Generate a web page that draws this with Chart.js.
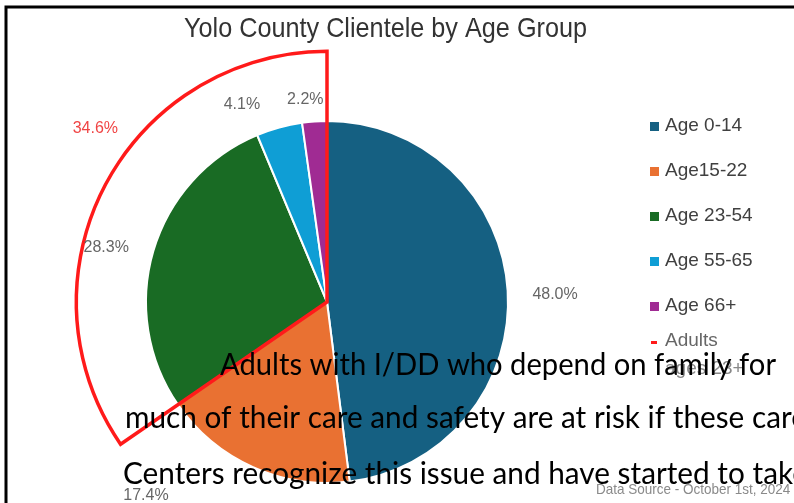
<!DOCTYPE html>
<html>
<head>
<meta charset="utf-8">
<script src="https://cdn.jsdelivr.net/npm/chart.js@4.4.1/dist/chart.umd.min.js"></script>
<style>
  html, body { margin: 0; padding: 0; background: #fff; }
  #wrap { position: relative; width: 794px; height: 503px; }
</style>
</head>
<body>
<div id="wrap"><canvas id="chart" width="794" height="503"></canvas></div>
<script>
var ageGroups = ["Age 0-14", "Age15-22", "Age 23-54", "Age 55-65", "Age 66+"];
var clientShare = [48.0, 17.4, 28.3, 4.1, 2.2];
var sliceColors = ["#156082", "#E97132", "#196B24", "#0F9ED5", "#A02B93"];
var adultGroups = [2, 3, 4]; // slices that make up the "adults" wedge
var adultsLegend = ["Adults", "ages 23+"];
var chartTitle = "Yolo County Clientele by Age Group";
var sourceNote = "Data Source - October 1st, 2024";
var slideLines = [
  "Adults with I/DD who depend on family for",
  "much of their care and safety are at risk if these care",
  "Centers recognize this issue and have started to take"
];

// where each percent label sits, relative to the pie centre, in radius units
var labelSpots = [[1.26, -0.04], [-1.0, 1.07], [-1.22, -0.30], [-0.47, -1.09], [-0.12, -1.12]];

function adultsShare() {
  var total = 0;
  adultGroups.forEach(function (i) { total += clientShare[i]; });
  return Math.round(total * 10) / 10;
}

// draws text squeezed/stretched horizontally by factor k
function squeezeText(ctx, text, x, y, k) {
  ctx.save();
  ctx.translate(x, y);
  ctx.scale(k, 1);
  ctx.fillText(text, 0, 0);
  ctx.restore();
}

var slidePlugin = {
  id: "slide",
  beforeDraw: function (chart) {
    var ctx = chart.ctx;
    ctx.save();
    ctx.fillStyle = "#fff";
    ctx.fillRect(0, 0, chart.width, chart.height);
    // frame of the pasted chart
    ctx.strokeStyle = "#000";
    ctx.lineWidth = 3;
    ctx.beginPath();
    ctx.moveTo(6, chart.height);
    ctx.lineTo(6, 7);
    ctx.lineTo(chart.width + 5, 7);
    ctx.stroke();
    ctx.restore();
  },
  afterDraw: function (chart) {
    var ctx = chart.ctx;
    var arcs = chart.getDatasetMeta(0).data;
    var cx = arcs[0].x, cy = arcs[0].y, r = arcs[0].outerRadius;

    ctx.save();

    // title
    ctx.fillStyle = "#333";
    ctx.font = "28px 'Liberation Sans'";
    ctx.textBaseline = "alphabetic";
    squeezeText(ctx, chartTitle, 184, 37, 403 / ctx.measureText(chartTitle).width);

    // red outline round the adult slices
    var first = arcs[adultGroups[0]], last = arcs[adultGroups[adultGroups.length - 1]];
    ctx.strokeStyle = "#ff1a1a";
    ctx.lineWidth = 3.5;
    ctx.lineJoin = "miter";
    ctx.beginPath();
    ctx.moveTo(cx, cy);
    ctx.arc(cx, cy, r * 1.385, first.startAngle, last.endAngle);
    ctx.closePath();
    ctx.stroke();

    // percent labels
    ctx.font = "16px 'Liberation Sans'";
    ctx.textAlign = "center";
    ctx.textBaseline = "middle";
    ctx.fillStyle = "#666";
    clientShare.forEach(function (v, i) {
      ctx.fillText(v.toFixed(1) + "%", cx + labelSpots[i][0] * r, cy + labelSpots[i][1] * r);
    });
    ctx.fillStyle = "#f04545";
    ctx.fillText(adultsShare().toFixed(1) + "%", cx - 1.28 * r, cy - 0.96 * r);

    // legend
    ctx.textAlign = "left";
    ctx.font = "19px 'Liberation Sans'";
    ageGroups.forEach(function (name, i) {
      var y = 126 + i * 45;
      ctx.fillStyle = sliceColors[i];
      ctx.fillRect(650, y - 4, 9, 9);
      ctx.fillStyle = "#404040";
      ctx.fillText(name, 665, y);
    });
    ctx.fillStyle = "#ff1a1a";
    ctx.fillRect(651, 341, 6, 3);
    ctx.fillStyle = "#666";
    ctx.fillText(adultsLegend[0], 665, 341);
    ctx.fillStyle = "#888";
    ctx.fillText(adultsLegend[1], 665, 369);

    // source note, faint
    ctx.font = "15px 'Liberation Sans'";
    ctx.fillStyle = "#8a8a8a";
    ctx.textBaseline = "alphabetic";
    squeezeText(ctx, sourceNote, 596, 494, 0.9);

    // slide body text sitting on top of the chart
    ctx.fillStyle = "#000";
    ctx.font = "30px Lato";
    var k = 556 / ctx.measureText(slideLines[0]).width;
    squeezeText(ctx, slideLines[0], 220, 375, k);
    squeezeText(ctx, slideLines[1], 125, 428, k * 1.02);
    squeezeText(ctx, slideLines[2], 123, 484, k * 1.02);

    ctx.restore();
  }
};

new Chart(document.getElementById("chart"), {
  type: "pie",
  data: {
    labels: ageGroups,
    datasets: [{
      data: clientShare,
      backgroundColor: sliceColors,
      borderColor: "#fff",
      borderWidth: 2
    }]
  },
  options: {
    responsive: false,
    animation: false,
    layout: { padding: { left: 145, right: 285, top: 120, bottom: 19 } },
    plugins: {
      legend: { display: false },
      title: { display: false },
      tooltip: { enabled: false }
    }
  },
  plugins: [slidePlugin]
});
</script>
</body>
</html>
